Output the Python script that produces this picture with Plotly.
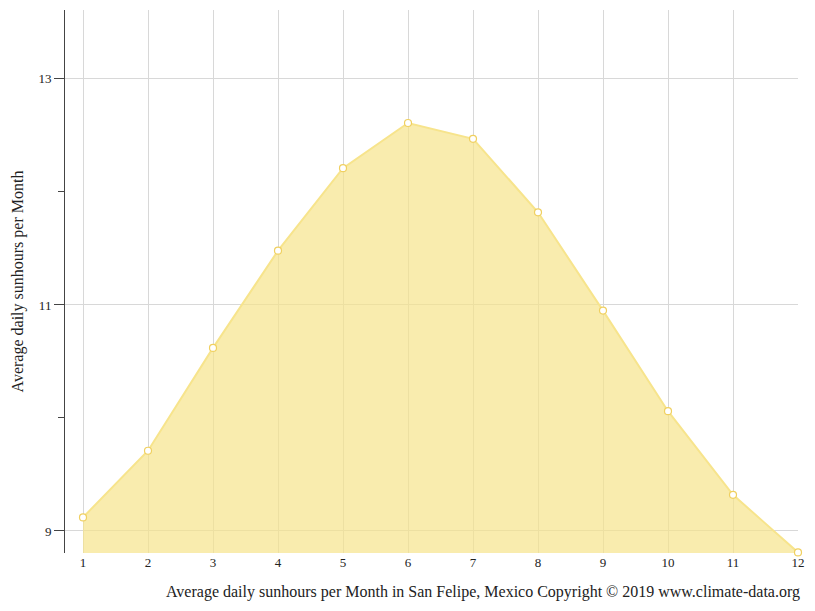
import plotly.graph_objects as go

months = [1, 2, 3, 4, 5, 6, 7, 8, 9, 10, 11, 12]
sunhours = [9.12, 9.71, 10.62, 11.48, 12.21, 12.61, 12.47, 11.82, 10.95, 10.06, 9.32, 8.81]

fig = go.Figure()
fig.add_trace(go.Scatter(
    x=months, y=sunhours, mode="lines+markers",
    fill="tozeroy", fillcolor="rgba(247,228,140,0.7)",
    line=dict(color="#f7e48c", width=2),
    marker=dict(size=7, color="white", line=dict(color="#f0d060", width=1.2)),
    hoverinfo="x+y",
    cliponaxis=False,
))

fig.add_annotation(
    text="Average daily sunhours per Month in San Felipe, Mexico Copyright © 2019 www.climate-data.org",
    xref="paper", yref="paper", x=1.006, y=0, xanchor="right", yanchor="top", yshift=-28,
    showarrow=False, font=dict(size=16),
)

fig.update_layout(
    width=807, height=603,
    margin=dict(l=57, r=17, t=2, b=58),
    plot_bgcolor="white", paper_bgcolor="white",
    font=dict(family="Liberation Serif", size=14, color="#222"),
    showlegend=False,
    xaxis=dict(
        range=[0.723, 12], tickvals=months, showgrid=True, gridcolor="#d8d8d8",
        zeroline=False, showline=False, ticks="", tickfont=dict(size=13),
        automargin=False,
    ),
    yaxis=dict(
        range=[8.805, 13.61], tickvals=[9, 11, 13], showgrid=True, gridcolor="#d8d8d8",
        zeroline=False, showline=True, linecolor="#444", ticks="outside", ticklen=10,
        tickcolor="#444", tickfont=dict(size=13),
        minor=dict(tickvals=[10, 12], ticks="outside", ticklen=6, tickcolor="#444", showgrid=False),
        title=dict(text="Average daily sunhours per Month", font=dict(size=16), standoff=10),
        automargin=False,
    ),
)

fig.write_html("out.html")
